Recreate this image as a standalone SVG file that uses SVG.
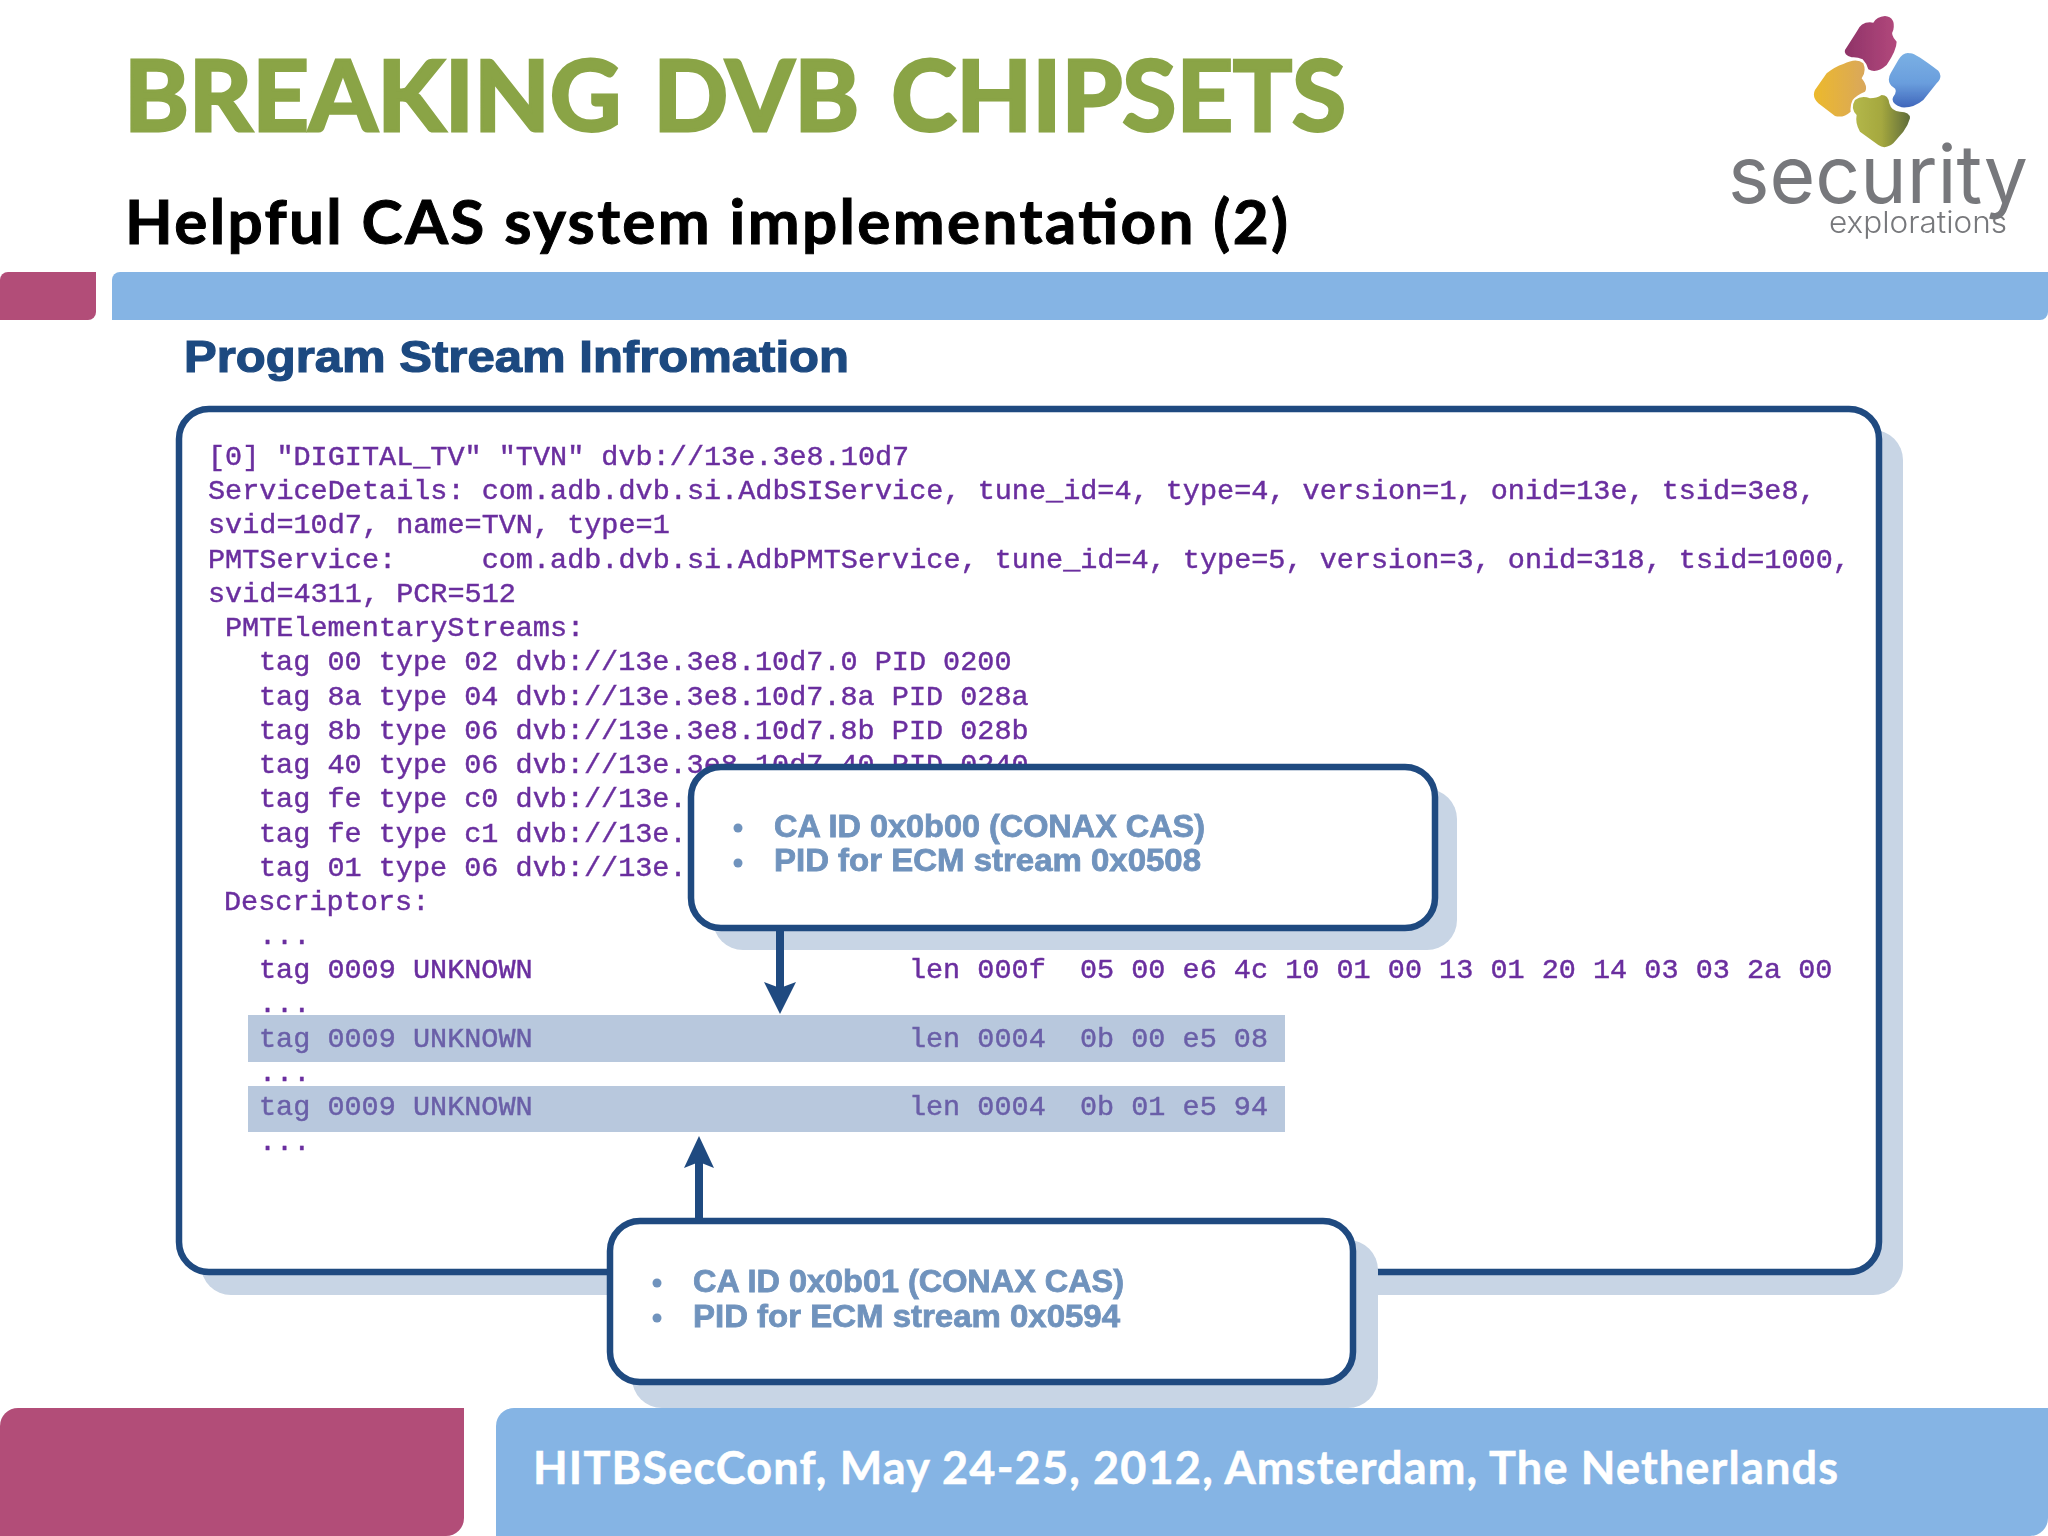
<svg xmlns="http://www.w3.org/2000/svg" width="2048" height="1536" viewBox="0 0 2048 1536">
<defs>
<style>
.m{font-family:"Liberation Mono",monospace;font-size:28.5px;fill:#6a2f9f;white-space:pre;stroke:#6a2f9f;stroke-width:.45}
.h{fill:#6a5fa8;stroke:#6a5fa8}
.box{fill:#fff;stroke:#1f4a80;stroke-width:6.5}
.sh{fill:#c8d5e5}
.c{font-family:"Liberation Sans",Arial,sans-serif;font-weight:700;font-size:31px;fill:#7093bd;stroke:#7093bd;stroke-width:.8}
.t{font-family:Lato,"Open Sans",sans-serif;font-weight:700}
.ln{stroke:#1f4a80;stroke-width:8;fill:none}
.ar{fill:#1f4a80}
.bl{fill:#7093bd}
.band{fill:#b8c8dd}
.soft{filter:url(#soft)}
</style>
<filter id="soft" x="-5%" y="-5%" width="110%" height="110%"><feGaussianBlur stdDeviation=".6"/></filter>
<linearGradient id="g1" x1="0" x2="1" y1="0" y2="0"><stop offset="0" stop-color="#8f3368"/><stop offset="1" stop-color="#b2487c"/></linearGradient>
<linearGradient id="g2" x1="0" x2="0" y1="0" y2="1"><stop offset="0" stop-color="#7ab0e4"/><stop offset=".55" stop-color="#6a9edd"/><stop offset="1" stop-color="#3f66bb"/></linearGradient>
<linearGradient id="g3" x1="0" x2="1" y1="0" y2="0"><stop offset="0" stop-color="#ecb92c"/><stop offset="1" stop-color="#d9a75c"/></linearGradient>
<linearGradient id="g4" x1="0" x2="1" y1="0" y2="0"><stop offset="0" stop-color="#b4b84a"/><stop offset=".5" stop-color="#a5a83f"/><stop offset="1" stop-color="#5f6c3a"/></linearGradient>
</defs>
<rect width="2048" height="1536" fill="#fff"/>
<g id="header">
<text class="t" x="124" y="131" font-size="97" fill="#8aa446" stroke="#8aa446" stroke-width="3" word-spacing="8" textLength="1222" lengthAdjust="spacingAndGlyphs">BREAKING DVB CHIPSETS</text>
<text class="t" x="125" y="244" font-size="62" fill="#000" stroke="#000" stroke-width="1" textLength="1163" lengthAdjust="spacing">Helpful CAS system implementation (2)</text>
<path d="M8 272H96V312a8 8 0 0 1-8 8H0V280a8 8 0 0 1 8-8Z" fill="#b24d78"/>
<path d="M2048 272H120a8 8 0 0 0-8 8V320H2040a8 8 0 0 0 8-8Z" fill="#85b4e4"/>
</g>
<g id="logo" class="soft">
<g transform="translate(1680 0) scale(.3333)">
<path d="M495 150L530 95Q545 62 580 68Q590 50 615 48Q648 52 640 90Q630 105 650 125Q650 150 620 195Q590 222 565 208Q560 190 548 178Q530 170 515 172Q490 165 495 150Z" fill="url(#g1)"/>
<path d="M690 160Q700 155 775 212Q790 230 770 250L730 300Q700 325 665 322Q630 310 640 290Q655 270 640 262Q618 245 632 220L655 180Q670 155 690 160Z" fill="url(#g2)"/>
<path d="M490 192Q530 172 550 190Q560 215 545 235Q565 260 555 275Q530 285 518 300Q510 315 512 335Q490 355 465 348L415 310Q395 290 405 270L440 220Q465 200 490 192Z" fill="url(#g3)"/>
<path d="M525 300Q545 285 570 295Q590 295 605 285Q625 285 628 310Q635 335 660 335Q690 335 690 355Q685 375 670 395L640 430Q615 450 595 435L540 395Q525 370 530 345Q510 325 525 300Z" fill="url(#g4)"/>
</g>
<text x="1728" y="203" font-family="Inter,Lato,sans-serif" font-weight="400" font-size="80" fill="#77787b" textLength="300" lengthAdjust="spacingAndGlyphs">security</text>
<text x="1829" y="233" font-family="Inter,Lato,sans-serif" font-weight="300" font-size="30" fill="#77787b" textLength="178" lengthAdjust="spacingAndGlyphs">explorations</text>
</g>
<text class="soft" x="184" y="372" font-family="Liberation Sans,Arial,sans-serif" font-weight="700" font-size="44" fill="#1f4a80" stroke="#1f4a80" stroke-width="1.2" textLength="665" lengthAdjust="spacingAndGlyphs">Program Stream Infromation</text>
<g id="main-box">
<rect class="sh" x="201" y="430" width="1702" height="865" rx="30"/>
<rect class="box" x="179" y="409" width="1700" height="863" rx="30"/>
</g>
<rect class="band" x="248" y="1015" width="1037" height="47"/>
<rect class="band" x="248" y="1086" width="1037" height="46"/>
<g id="listing" class="soft">
<text class="m" x="208" y="465">[0] "DIGITAL_TV" "TVN" dvb://13e.3e8.10d7</text>
<text class="m" x="208" y="499">ServiceDetails: com.adb.dvb.si.AdbSIService, tune_id=4, type=4, version=1, onid=13e, tsid=3e8,</text>
<text class="m" x="208" y="533">svid=10d7, name=TVN, type=1</text>
<text class="m" x="208" y="568">PMTService:     com.adb.dvb.si.AdbPMTService, tune_id=4, type=5, version=3, onid=318, tsid=1000,</text>
<text class="m" x="208" y="602">svid=4311, PCR=512</text>
<text class="m" x="225" y="636">PMTElementaryStreams:</text>
<text class="m" x="259" y="670">tag 00 type 02 dvb://13e.3e8.10d7.0 PID 0200</text>
<text class="m" x="259" y="705">tag 8a type 04 dvb://13e.3e8.10d7.8a PID 028a</text>
<text class="m" x="259" y="739">tag 8b type 06 dvb://13e.3e8.10d7.8b PID 028b</text>
<text class="m" x="259" y="773">tag 40 type 06 dvb://13e.3e8.10d7.40 PID 0240</text>
<text class="m" x="259" y="807">tag fe type c0 dvb://13e.</text>
<text class="m" x="259" y="842">tag fe type c1 dvb://13e.</text>
<text class="m" x="259" y="876">tag 01 type 06 dvb://13e.</text>
<text class="m" x="224" y="910">Descriptors:</text>
<text class="m" x="259" y="944">...</text>
<text class="m" x="259" y="978">tag 0009 UNKNOWN                      len 000f  05 00 e6 4c 10 01 00 13 01 20 14 03 03 2a 00</text>
<text class="m" x="259" y="1012">...</text>
<text class="m h" x="259" y="1047">tag 0009 UNKNOWN                      len 0004  0b 00 e5 08</text>
<text class="m" x="259" y="1081">...</text>
<text class="m h" x="259" y="1115">tag 0009 UNKNOWN                      len 0004  0b 01 e5 94</text>
<text class="m" x="259" y="1150">...</text>
</g>
<g id="callout-1">
<rect class="sh" x="713" y="789" width="744" height="161" rx="30"/>
<rect class="box" x="691" y="767" width="744" height="161" rx="30"/>
<circle class="bl" cx="738" cy="828" r="4.5"/>
<circle class="bl" cx="738" cy="863" r="4.5"/>
<g class="soft">
<text class="c" x="774" y="837" textLength="431" lengthAdjust="spacingAndGlyphs">CA ID 0x0b00 (CONAX CAS)</text>
<text class="c" x="774" y="871" textLength="427" lengthAdjust="spacingAndGlyphs">PID for ECM stream 0x0508</text>
</g>
</g>
<g id="callout-2">
<rect class="sh" x="632" y="1240" width="746" height="168" rx="30"/>
<rect class="box" x="610" y="1221" width="743" height="161" rx="30"/>
<circle class="bl" cx="657" cy="1283" r="4.5"/>
<circle class="bl" cx="657" cy="1318" r="4.5"/>
<g class="soft">
<text class="c" x="693" y="1292" textLength="431" lengthAdjust="spacingAndGlyphs">CA ID 0x0b01 (CONAX CAS)</text>
<text class="c" x="693" y="1327" textLength="427" lengthAdjust="spacingAndGlyphs">PID for ECM stream 0x0594</text>
</g>
</g>
<g id="connectors">
<path class="ln" d="M780 930V990"/>
<path class="ar" d="M764 982L780 1014L796 982L780 988Z"/>
<path class="ln" d="M699 1218V1160"/>
<path class="ar" d="M684 1168L699 1136L714 1168L699 1162Z"/>
</g>
<g id="footer">
<path d="M18 1408H464V1518a18 18 0 0 1-18 18H0V1426a18 18 0 0 1 18-18Z" fill="#b24d78"/>
<path d="M514 1408H2048V1518a18 18 0 0 1-18 18H496V1426a18 18 0 0 1 18-18Z" fill="#85b4e4"/>
<text class="t" x="533" y="1484" font-size="45" fill="#fff" stroke="#fff" stroke-width=".5" textLength="1305" lengthAdjust="spacing">HITBSecConf, May 24-25, 2012, Amsterdam, The Netherlands</text>
</g>
</svg>
